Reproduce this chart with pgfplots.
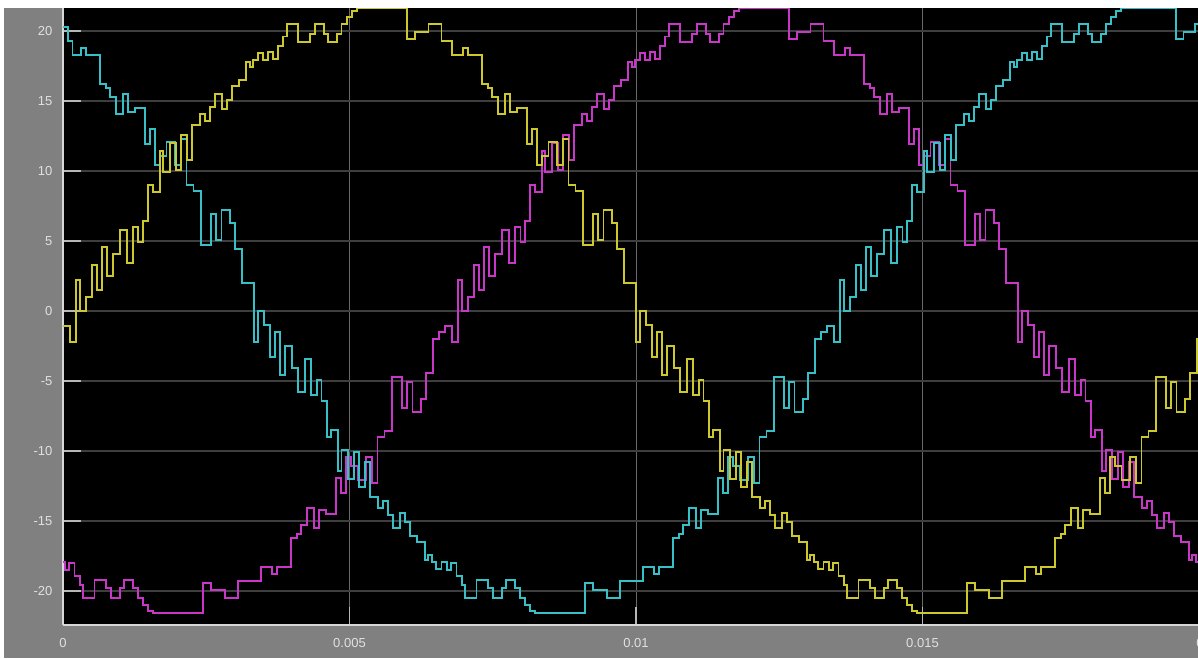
\documentclass[border=0pt]{standalone}
\usepackage{fontspec}
\setmainfont{Liberation Sans}
\usepackage{pgfplots}
\pgfplotsset{compat=1.18}

% scope colours
\definecolor{scopegray}{RGB}{128,128,128}
\definecolor{hgridgray}{RGB}{62,62,62}
\definecolor{vgridgray}{RGB}{105,105,105}
\definecolor{axisgray}{RGB}{215,215,215}
\definecolor{labelgray}{RGB}{225,225,225}
\definecolor{phaseA}{RGB}{205,200,45}
\definecolor{phaseB}{RGB}{55,192,200}
\definecolor{phaseC}{RGB}{200,55,200}

\begin{document}
\begin{tikzpicture}
% white border and grey scope frame
\fill[white] (-31.5pt,-16.5pt) rectangle (567.5pt,312.5pt);
\fill[scopegray] (-29.5pt,-16.5pt) rectangle (567.5pt,308.5pt);
\begin{axis}[
  at={(0pt,0pt)}, anchor=south west,
  scale only axis, width=573pt, height=308.5pt,
  xmin=0, xmax=360, ymin=-22.43, ymax=21.64,
  axis background/.style={fill=black},
  axis lines*=left,
  axis line style={axisgray, line width=1.1pt},
  xtick={0,90,180,270,360},
  xticklabels={0,0.005,0.01,0.015,0.02},
  ytick={-20,-15,-10,-5,0,5,10,15,20},
  xmajorgrids, ymajorgrids,
  x grid style={vgridgray, line width=0.5pt},
  y grid style={hgridgray, line width=0.6pt},
  tick align=inside,
  major tick length=9pt,
  tick style={color=axisgray!85!black, line width=0.8pt},
  /pgf/number format/assume math mode=true,
  ticklabel style={font=\fontsize{6.5}{7.5}\selectfont, text=labelgray},
  xticklabel style={yshift=-3.0pt},
  yticklabel style={xshift=-1.8pt},
  every axis plot/.append style={const plot, line width=0.95pt},
  clip=true,
]
% phase C (magenta)
\addplot[phaseC] coordinates {
(0.0,-17.9) (0.5,-18.5) (2.0,-18.0) (3.6,-18.9) (5.2,-19.6) (6.4,-20.5)
(9.9,-19.2) (13.6,-19.8) (15.1,-20.5) (18.0,-19.8) (19.3,-19.2) (22.0,-19.8)
(23.5,-20.5) (25.1,-21.0) (26.7,-21.4) (28.3,-21.6) (44.0,-19.4) (46.5,-19.9)
(50.8,-20.5) (54.9,-19.3) (62.1,-18.3) (65.7,-18.8) (67.3,-18.3) (71.5,-16.2)
(73.5,-15.9) (74.7,-15.3) (76.7,-14.1) (78.9,-15.5) (80.4,-14.2) (82.5,-14.5)
(85.7,-11.9) (87.2,-13.0) (88.8,-10.4) (90.4,-11.1) (92.5,-12.1) (95.1,-10.4)
(97.2,-12.3) (98.8,-9.0) (101.0,-8.6) (103.4,-4.7) (106.6,-6.9) (108.2,-5.1)
(109.8,-7.2) (112.4,-6.3) (114.0,-4.4) (116.1,-2.0) (118.0,-1.5) (120.0,-1.1)
(122.2,-2.2) (124.0,2.2) (125.3,0.0) (127.2,1.0) (129.0,3.3) (130.6,1.5)
(132.2,4.6) (133.8,2.5) (135.8,4.1) (137.9,5.8) (140.0,3.4) (141.9,6.0)
(143.7,4.9) (145.2,6.4) (146.8,9.0) (148.2,8.5) (150.5,11.4) (151.5,9.9)
(153.5,12.0) (155.5,10.1) (157.0,12.6) (159.0,10.8) (160.5,13.3) (163.0,14.1)
(164.6,13.6) (166.2,14.6) (167.7,15.5) (169.9,14.4) (171.5,15.1) (173.1,16.1)
(175.2,16.5) (177.6,17.8) (178.7,17.4) (179.8,17.9) (181.3,18.4) (182.9,17.9)
(184.5,18.5) (186.0,18.0) (187.6,18.9) (189.2,19.6) (190.4,20.5) (193.9,19.2)
(197.6,19.8) (199.1,20.5) (202.0,19.8) (203.3,19.2) (206.0,19.8) (207.5,20.5)
(209.1,21.0) (210.7,21.4) (212.3,21.6) (228.0,19.4) (230.5,19.9) (234.8,20.5)
(238.9,19.3) (242.1,18.3) (245.7,18.8) (247.3,18.3) (251.5,16.2) (253.5,15.9)
(254.7,15.3) (256.7,14.1) (258.9,15.5) (260.4,14.2) (262.5,14.5) (265.7,11.9)
(267.2,13.0) (268.8,10.4) (270.4,11.1) (272.5,12.1) (275.1,10.4) (277.2,12.3)
(278.8,9.0) (281.0,8.6) (283.4,4.7) (286.6,6.9) (288.2,5.1) (289.8,7.2)
(292.4,6.3) (294.0,4.4) (296.1,2.0) (300.0,-2.2) (301.3,0.0) (303.2,-1.0)
(305.0,-3.3) (306.6,-1.5) (308.2,-4.6) (309.8,-2.5) (311.8,-4.1) (313.9,-5.8)
(316.0,-3.4) (317.9,-6.0) (319.7,-4.9) (321.2,-6.4) (322.8,-9.0) (324.2,-8.5)
(326.5,-11.4) (327.5,-9.9) (329.5,-12.0) (331.5,-10.1) (333.0,-12.6) (335.0,-10.8)
(336.5,-13.3) (339.0,-14.1) (340.6,-13.6) (342.2,-14.6) (343.7,-15.5) (345.9,-14.4)
(347.5,-15.1) (349.1,-16.1) (351.2,-16.5) (353.6,-17.8) (354.7,-17.4) (355.8,-17.9)
(357.3,-18.4) (358.9,-17.9) (360.0,-17.9)
};
% phase B (cyan)
\addplot[phaseB] coordinates {
(0.0,20.3) (1.5,19.3) (3.0,18.3) (5.7,18.8) (7.3,18.3) (11.5,16.2) (13.5,15.9)
(14.7,15.3) (16.7,14.1) (18.9,15.5) (20.4,14.2) (22.5,14.5) (25.7,11.9)
(27.2,13.0) (28.8,10.4) (30.4,11.1) (32.5,12.1) (35.1,10.4) (37.2,12.3)
(38.8,9.0) (41.0,8.6) (43.4,4.7) (46.6,6.9) (48.2,5.1) (49.8,7.2)
(52.4,6.3) (54.0,4.4) (56.1,2.0) (60.0,-2.2) (61.3,0.0) (63.2,-1.0)
(65.0,-3.3) (66.6,-1.5) (68.2,-4.6) (69.8,-2.5) (71.8,-4.1) (73.9,-5.8)
(76.0,-3.4) (77.9,-6.0) (79.7,-4.9) (81.2,-6.4) (82.8,-9.0) (84.2,-8.5)
(86.5,-11.4) (87.5,-9.9) (89.5,-12.0) (91.5,-10.1) (93.0,-12.6) (95.0,-10.8)
(96.5,-13.3) (99.0,-14.1) (100.6,-13.6) (102.2,-14.6) (103.7,-15.5) (105.9,-14.4)
(107.5,-15.1) (109.1,-16.1) (111.2,-16.5) (113.6,-17.8) (114.7,-17.4) (115.8,-17.9)
(117.3,-18.4) (118.9,-17.9) (120.5,-18.5) (122.0,-18.0) (123.6,-18.9) (125.2,-19.6)
(126.4,-20.5) (129.9,-19.2) (133.6,-19.8) (135.1,-20.5) (138.0,-19.8) (139.3,-19.2)
(142.0,-19.8) (143.5,-20.5) (145.1,-21.0) (146.7,-21.4) (148.3,-21.6) (164.0,-19.4)
(166.5,-19.9) (170.8,-20.5) (174.9,-19.3) (182.1,-18.3) (185.7,-18.8) (187.3,-18.3)
(191.5,-16.2) (193.5,-15.9) (194.7,-15.3) (196.7,-14.1) (198.9,-15.5) (200.4,-14.2)
(202.5,-14.5) (205.7,-11.9) (207.2,-13.0) (208.8,-10.4) (210.4,-11.1) (212.5,-12.1)
(215.1,-10.4) (217.2,-12.3) (218.8,-9.0) (221.0,-8.6) (223.4,-4.7) (226.6,-6.9)
(228.2,-5.1) (229.8,-7.2) (232.4,-6.3) (234.0,-4.4) (236.1,-2.0) (238.0,-1.5)
(240.0,-1.1) (242.2,-2.2) (244.0,2.2) (245.3,0.0) (247.2,1.0) (249.0,3.3)
(250.6,1.5) (252.2,4.6) (253.8,2.5) (255.8,4.1) (257.9,5.8) (260.0,3.4)
(261.9,6.0) (263.7,4.9) (265.2,6.4) (266.8,9.0) (268.2,8.5) (270.5,11.4)
(271.5,9.9) (273.5,12.0) (275.5,10.1) (277.0,12.6) (279.0,10.8) (280.5,13.3)
(283.0,14.1) (284.6,13.6) (286.2,14.6) (287.7,15.5) (289.9,14.4) (291.5,15.1)
(293.1,16.1) (295.2,16.5) (297.6,17.8) (298.7,17.4) (299.8,17.9) (301.3,18.4)
(302.9,17.9) (304.5,18.5) (306.0,18.0) (307.6,18.9) (309.2,19.6) (310.4,20.5)
(313.9,19.2) (317.6,19.8) (319.1,20.5) (322.0,19.8) (323.3,19.2) (326.0,19.8)
(327.5,20.5) (329.1,21.0) (330.7,21.4) (332.3,21.6) (349.5,19.4) (352.0,19.9)
(355.5,20.5) (358.9,19.3) (360.0,19.3)
};
% phase A (yellow)
\addplot[phaseA] coordinates {
(0.0,-1.1) (2.2,-2.2) (4.0,2.2) (5.3,0.0) (7.2,1.0) (9.0,3.3)
(10.6,1.5) (12.2,4.6) (13.8,2.5) (15.8,4.1) (17.9,5.8) (20.0,3.4)
(21.9,6.0) (23.7,4.9) (25.2,6.4) (26.8,9.0) (28.2,8.5) (30.5,11.4)
(31.5,9.9) (33.5,12.0) (35.5,10.1) (37.0,12.6) (39.0,10.8) (40.5,13.3)
(43.0,14.1) (44.6,13.6) (46.2,14.6) (47.7,15.5) (49.9,14.4) (51.5,15.1)
(53.1,16.1) (55.2,16.5) (57.6,17.8) (58.7,17.4) (59.8,17.9) (61.3,18.4)
(62.9,17.9) (64.5,18.5) (66.0,18.0) (67.6,18.9) (69.2,19.6) (70.4,20.5)
(73.9,19.2) (77.6,19.8) (79.1,20.5) (82.0,19.8) (83.3,19.2) (86.0,19.8)
(87.5,20.5) (89.1,21.0) (90.7,21.4) (92.3,21.6) (108.0,19.4) (110.5,19.9)
(114.8,20.5) (118.9,19.3) (122.1,18.3) (125.7,18.8) (127.3,18.3) (131.5,16.2)
(133.5,15.9) (134.7,15.3) (136.7,14.1) (138.9,15.5) (140.4,14.2) (142.5,14.5)
(145.7,11.9) (147.2,13.0) (148.8,10.4) (150.4,11.1) (152.5,12.1) (155.1,10.4)
(157.2,12.3) (158.8,9.0) (161.0,8.6) (163.4,4.7) (166.6,6.9) (168.2,5.1)
(169.8,7.2) (172.4,6.3) (174.0,4.4) (176.1,2.0) (180.0,-2.2) (181.3,0.0)
(183.2,-1.0) (185.0,-3.3) (186.6,-1.5) (188.2,-4.6) (189.8,-2.5) (191.8,-4.1)
(193.9,-5.8) (196.0,-3.4) (197.9,-6.0) (199.7,-4.9) (201.2,-6.4) (202.8,-9.0)
(204.2,-8.5) (206.5,-11.4) (207.5,-9.9) (209.5,-12.0) (211.5,-10.1) (213.0,-12.6)
(215.0,-10.8) (216.5,-13.3) (219.0,-14.1) (220.6,-13.6) (222.2,-14.6) (223.7,-15.5)
(225.9,-14.4) (227.5,-15.1) (229.1,-16.1) (231.2,-16.5) (233.6,-17.8) (234.7,-17.4)
(235.8,-17.9) (237.3,-18.4) (238.9,-17.9) (240.5,-18.5) (242.0,-18.0) (243.6,-18.9)
(245.2,-19.6) (246.4,-20.5) (249.9,-19.2) (253.6,-19.8) (255.1,-20.5) (258.0,-19.8)
(259.3,-19.2) (262.0,-19.8) (263.5,-20.5) (265.1,-21.0) (266.7,-21.4) (268.3,-21.6)
(284.0,-19.4) (286.5,-19.9) (290.8,-20.5) (294.9,-19.3) (302.1,-18.3) (305.7,-18.8)
(307.3,-18.3) (311.5,-16.2) (313.5,-15.9) (314.7,-15.3) (316.7,-14.1) (318.9,-15.5)
(320.4,-14.2) (322.5,-14.5) (325.7,-11.9) (327.2,-13.0) (328.8,-10.4) (330.4,-11.1)
(332.5,-12.1) (335.1,-10.4) (337.2,-12.3) (338.8,-9.0) (341.0,-8.6) (343.4,-4.7)
(346.6,-6.9) (348.2,-5.1) (349.8,-7.2) (352.4,-6.3) (354.0,-4.4) (356.1,-2.0)
(358.0,-1.5) (360.0,-1.1)
};
\end{axis}
% the scope window ends just past the last sample shown
\pgfresetboundingbox
\path[use as bounding box] (-31.5pt,-16.5pt) rectangle (567.5pt,312.5pt);
\end{tikzpicture}
\end{document}
